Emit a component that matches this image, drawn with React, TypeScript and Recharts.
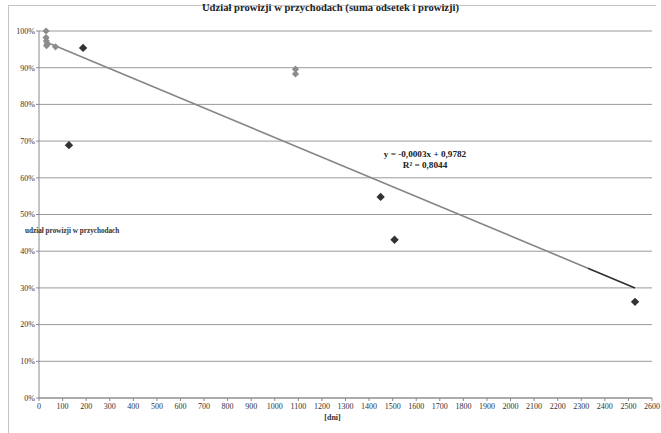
import { CartesianGrid, ComposedChart, Line, Scatter, XAxis, YAxis } from 'recharts'

// days vs commission share (gray = first group, dark = second group)
const grayDays = [30, 30, 31, 32, 35, 70, 1088, 1088]
const grayShare = [1.0, 0.982, 0.973, 0.96, 0.965, 0.957, 0.896, 0.883]
const darkDays = [127, 187, 1449, 1508, 2528]
const darkShare = [0.689, 0.954, 0.548, 0.431, 0.262]

// linear trendline end points (as drawn)
const trendDays = [30, 2528]
const trendShare = [0.97, 0.3]

const xTicks = [0, 100, 200, 300, 400, 500, 600, 700, 800, 900, 1000, 1100, 1200, 1300, 1400, 1500, 1600, 1700, 1800, 1900, 2000, 2100, 2200, 2300, 2400, 2500, 2600]
const yTicks = [0, 0.1, 0.2, 0.3, 0.4, 0.5, 0.6, 0.7, 0.8, 0.9, 1]

const grayData = grayDays.map((x, i) => ({ x, y: grayShare[i] }))
const darkData = darkDays.map((x, i) => ({ x, y: darkShare[i] }))
const trendData = trendDays.map((x, i) => ({ x, y: trendShare[i] }))

const FONT = '"Liberation Serif", "Times New Roman", serif'

const diamond = (fill: string, r: number) => (props: any) => {
  const { cx, cy } = props
  if (cx == null || cy == null) return <g />
  return <polygon points={`${cx},${cy - r} ${cx + r},${cy} ${cx},${cy + r} ${cx - r},${cy}`} fill={fill} />
}

export default function App() {
  return (
    <div style={{ position: 'absolute', left: 0, top: 0, width: 661, height: 433, background: '#fff', fontFamily: FONT }}>
      <div style={{ position: 'absolute', left: 8, top: 5, width: 647, height: 440, borderLeft: '1px solid #c4c4c4', borderTop: '1px solid #c4c4c4' }} />
      <ComposedChart width={661} height={433} margin={{ top: 31, right: 9, bottom: 0, left: 0 }}>
        <defs>
          <linearGradient id="trendStroke" x1="0" y1="0" x2="1" y2="0">
            <stop offset="0%" stopColor="#858585" />
            <stop offset="92%" stopColor="#858585" />
            <stop offset="92%" stopColor="#2e2e2e" />
            <stop offset="100%" stopColor="#2e2e2e" />
          </linearGradient>
        </defs>
        <CartesianGrid vertical={false} stroke="#9a9a9a" strokeWidth={1} />
        <XAxis
          type="number"
          dataKey="x"
          domain={[0, 2600]}
          ticks={xTicks}
          interval={0}
          height={35}
          tickSize={3}
          tickMargin={2}
          stroke="#8a8a8a"
          tick={{ fontSize: 8, fill: '#333', fontFamily: FONT }}
          allowDataOverflow
        />
        <YAxis
          type="number"
          dataKey="y"
          domain={[0, 1]}
          ticks={yTicks}
          interval={0}
          width={39}
          tickSize={3}
          tickMargin={1}
          stroke="#8a8a8a"
          tickFormatter={(v: number) => `${Math.round(v * 100)}%`}
          tick={{ fontSize: 8, fill: '#333', fontFamily: FONT }}
        />
        <Line data={trendData} dataKey="y" stroke="url(#trendStroke)" strokeWidth={1.6} dot={false} activeDot={false} isAnimationActive={false} />
        <Scatter data={grayData} dataKey="y" shape={diamond('#8c8c8c', 3.6)} isAnimationActive={false} />
        <Scatter data={darkData} dataKey="y" shape={diamond('#333', 4.2)} isAnimationActive={false} />
      </ComposedChart>
      <div style={{ position: 'absolute', left: 0, width: 661, top: 2, textAlign: 'center', fontSize: 10.6, fontWeight: 'bold', color: '#222', lineHeight: '12px' }}>
        Udział prowizji w przychodach (suma odsetek i prowizji)
      </div>
      <div style={{ position: 'absolute', left: 25, top: 226, fontSize: 7.2, fontWeight: 'bold', color: '#333', lineHeight: '10px', whiteSpace: 'nowrap' }}>
        udział prowizji w przychodach
      </div>
      <div style={{ position: 'absolute', left: 0, width: 661, top: 413, textAlign: 'center', fontSize: 8, fontWeight: 'bold', color: '#333', lineHeight: '10px', paddingLeft: 2 }}>
        [dni]
      </div>
      <div style={{ position: 'absolute', left: 365, width: 120, top: 149, textAlign: 'center', fontSize: 9.2, fontWeight: 'bold', color: '#222', lineHeight: '11px' }}>
        <div>y = -0,0003x + 0,9782</div>
        <div>R² = 0,8044</div>
      </div>
    </div>
  )
}
